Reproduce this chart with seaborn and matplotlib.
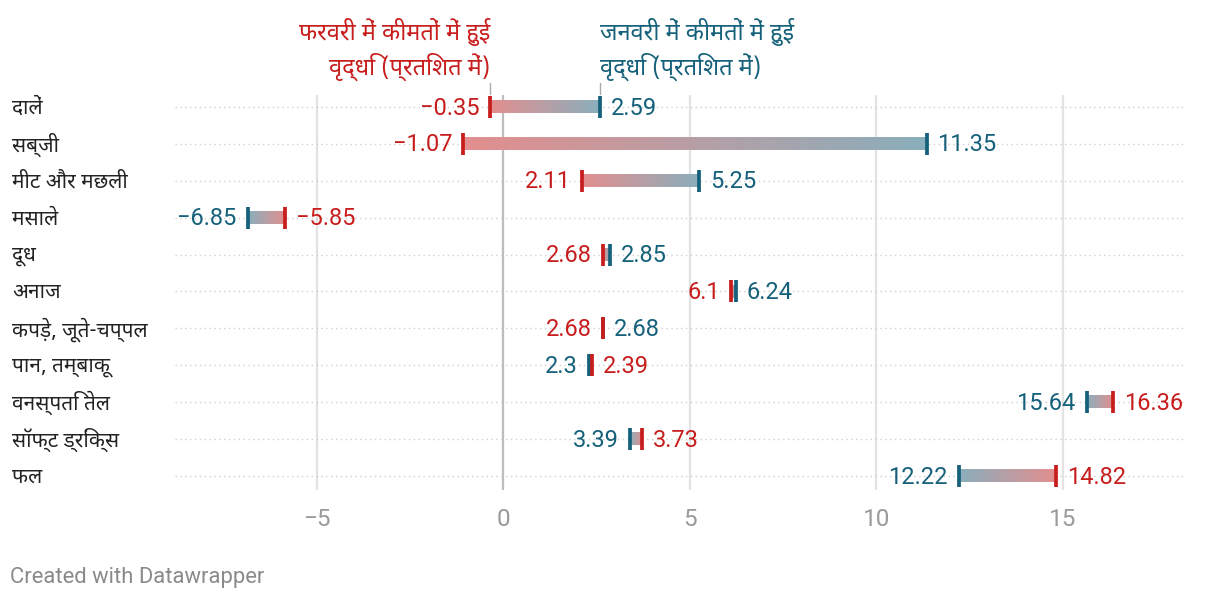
import numpy as np
import matplotlib
matplotlib.use("Agg")
import matplotlib.pyplot as plt
import matplotlib.transforms as mtransforms
import seaborn as sns

# data, top row first
categories = ['दालें', 'सब्जी', 'मीट और मछली', 'मसाले', 'दूध', 'अनाज',
              'कपड़े, जूते-चप्पल', 'पान, तम्बाकू', 'वनस्पति तेल',
              'सॉफ्ट ड्रिंक्स', 'फल']
jan_values = [2.59, 11.35, 5.25, -6.85, 2.85, 6.24, 2.68, 2.3, 15.64, 3.39, 12.22]
feb_values = [-0.35, -1.07, 2.11, -5.85, 2.68, 6.1, 2.68, 2.39, 16.36, 3.73, 14.82]
x_ticks = [-5, 0, 5, 10, 15]

feb_title = 'फरवरी में कीमतों में हुई\nवृद्धि (प्रतिशत में)'
jan_title = 'जनवरी में कीमतों में हुई\nवृद्धि (प्रतिशत में)'

RED = '#c71e1d'
BLUE = '#15607a'
RED_LIGHT = '#e38e8e'
BLUE_LIGHT = '#8aafbc'

sns.set_theme(style='white')
hindi_family = ['Noto Sans Devanagari', 'Roboto', 'DejaVu Sans']
num_family = ['Roboto', 'DejaVu Sans']
plt.rcParams['font.family'] = hindi_family

W, H = 1220, 604
fig = plt.figure(figsize=(W / 100, H / 100), dpi=100)
ax = fig.add_axes([175 / W, (H - 490) / H, 1010 / W, 395 / H])

n = len(categories)
rows = np.arange(n)
XLIM = (-8.80, 18.28)
YLIM = (n - 1 + 0.38, -0.325)

# grid
for t in x_ticks:
    ax.axvline(t, color='#bdbdbd' if t == 0 else '#e3e3e3', lw=1.6, zorder=0)
for r in rows:
    ax.axhline(r, color='#cfcfcf', lw=1.0, ls=(0, (1, 2.5)), zorder=0)

# gradient bars, running from the February value to the January value
grad = np.linspace(0, 1, 256).reshape(1, -1)
cmap = matplotlib.colors.LinearSegmentedColormap.from_list('fb', [RED_LIGHT, BLUE_LIGHT])
half = 0.165
for r, f, j in zip(rows, feb_values, jan_values):
    if f != j:
        ax.imshow(grad, cmap=cmap, aspect='auto', extent=[f, j, r + half, r - half],
                  interpolation='bilinear', zorder=2)
ax.set_xlim(*XLIM)
ax.set_ylim(*YLIM)

# end caps
sns.scatterplot(x=jan_values, y=rows, marker='|', s=240, linewidth=2.7,
                color=BLUE, ax=ax, zorder=3, legend=False)
sns.scatterplot(x=feb_values, y=rows, marker='|', s=240, linewidth=2.7,
                color=RED, ax=ax, zorder=4, legend=False)

# value labels
fs_val = 17
off = 11 / 37.27
dy = 0.03
for r, f, j in zip(rows, feb_values, jan_values):
    fs, js = f'{f:g}'.replace('-', '−'), f'{j:g}'.replace('-', '−')
    if f <= j:
        ax.text(f - off, r + dy, fs, color=RED, ha='right', va='center', fontsize=fs_val, family=num_family)
        ax.text(j + off, r + dy, js, color=BLUE, ha='left', va='center', fontsize=fs_val, family=num_family)
    else:
        ax.text(j - off, r + dy, js, color=BLUE, ha='right', va='center', fontsize=fs_val, family=num_family)
        ax.text(f + off, r + dy, fs, color=RED, ha='left', va='center', fontsize=fs_val, family=num_family)

# category labels
lab_tr = mtransforms.blended_transform_factory(fig.transFigure, ax.transData)
for r, c in zip(rows, categories):
    ax.text(12 / W, r + dy, c, transform=lab_tr, ha='left', va='center', fontsize=15, color='#222222')

# header labels
head_tr = mtransforms.blended_transform_factory(ax.transData, fig.transFigure)
ax.text(feb_values[0], (H - 81) / H, feb_title, transform=head_tr, ha='right', va='bottom',
        color=RED, fontsize=17, linespacing=1.28, multialignment='right')
ax.text(jan_values[0], (H - 81) / H, jan_title, transform=head_tr, ha='left', va='bottom',
        color=BLUE, fontsize=17, linespacing=1.28, multialignment='left')
for v in (feb_values[0], jan_values[0]):
    ax.plot([v, v], [(H - 83) / H, (H - 94) / H], transform=head_tr, color='#aaaaaa',
            lw=1, clip_on=False)

# axes
ax.set_xticks(x_ticks)
ax.set_xticklabels([f'{t}'.replace('-', '−') for t in x_ticks], family=num_family,
                   fontsize=17.5, color='#9a9a9a')
ax.tick_params(axis='x', length=0, pad=13)
ax.set_yticks([])
for s in ax.spines.values():
    s.set_visible(False)
ax.patch.set_alpha(0)

fig.text(10 / W, (H - 578) / H, 'Created with Datawrapper', family=num_family,
         fontsize=15.8, color='#8a8a8a', va='center')

fig.savefig('out.png', dpi=100)
